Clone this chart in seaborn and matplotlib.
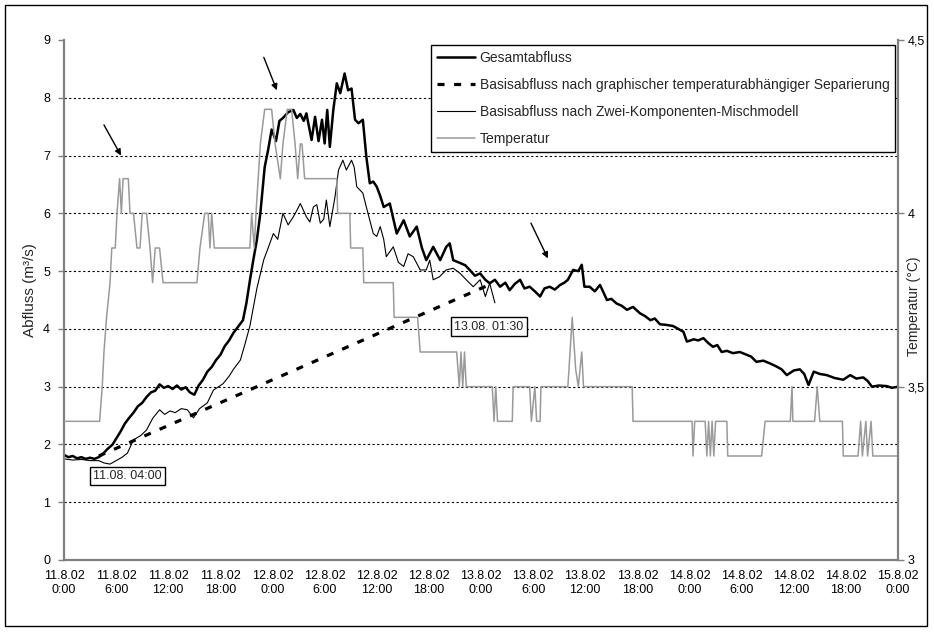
import matplotlib
matplotlib.use("Agg")
import matplotlib.pyplot as plt
import pandas as pd
import seaborn as sns
from matplotlib.lines import Line2D
from matplotlib.patches import Rectangle

sns.set_style("white")
plt.rcParams["font.family"] = ["Liberation Sans", "DejaVu Sans"]

# ---- time axis (hours since 11.8.02 0:00) ----
tick_days = ["11.8.02", "12.8.02", "13.8.02", "14.8.02", "15.8.02"]
tick_clock = ["0:00", "6:00", "12:00", "18:00"]

# ---- Gesamtabfluss (m3/s) ----
gesamt_h = [
    0, 0.5, 1, 1.5, 2, 2.5, 3, 3.5, 4.0, 4.5,
    5.0, 5.6, 6.0, 6.5, 7.0, 7.5, 8.0, 8.5, 9.0, 9.5,
    10.0, 10.5, 11.0, 11.5, 12.0, 12.5, 13.0, 13.5, 14.0, 14.5,
    15.0, 15.5, 16.0, 16.5, 17.0, 17.5, 18.0, 18.5, 19.0, 19.5,
    20.0, 20.6, 21.0, 21.4, 21.8, 22.2, 22.6, 23.1, 23.5, 23.9,
    24.4, 24.8, 25.2, 25.8, 26.4, 26.8, 27.2, 27.6, 27.9, 28.5,
    28.9, 29.3, 29.7, 30.0, 30.3, 30.6, 31.0, 31.4, 31.8, 32.3,
    32.7, 33.1, 33.5, 33.9, 34.4, 34.8, 35.2, 35.6, 36.0, 36.4,
    36.8, 37.5, 38.3, 39.1, 39.8, 40.6, 41.2, 41.7, 42.5, 43.3,
    44.0, 44.4, 44.8, 45.6, 46.2, 46.7, 47.3, 47.9, 48.5, 49.0,
    49.6, 50.2, 50.8, 51.3, 51.9, 52.5, 53.0, 53.6, 54.2, 54.8,
    55.3, 55.9, 56.5, 57.1, 57.6, 58.0, 58.6, 59.2, 59.6, 59.9,
    60.5, 61.1, 61.7, 62.5, 63.0, 63.6, 64.2, 64.8, 65.5, 66.3,
    66.9, 67.5, 68.0, 68.6, 69.3, 70.1, 71.3, 71.7, 72.5, 73.0,
    73.6, 74.2, 74.7, 75.2, 75.7, 76.3, 77.0, 77.8, 78.6, 79.1,
    79.7, 80.5, 81.3, 82.0, 82.6, 83.2, 84.0, 84.7, 85.2, 85.7,
    86.3, 87.0, 87.8, 88.7, 89.7, 90.5, 91.2, 92.0, 92.5, 93.0,
    93.8, 94.7, 95.3, 96.0,
]
gesamt_q = [
    1.82, 1.78, 1.80, 1.76, 1.78, 1.75, 1.77, 1.75, 1.78, 1.84,
    1.92, 2.00, 2.10, 2.22, 2.36, 2.46, 2.55, 2.66, 2.72, 2.82,
    2.90, 2.93, 3.04, 2.98, 3.01, 2.96, 3.02, 2.95, 2.99, 2.90,
    2.86, 3.02, 3.12, 3.26, 3.34, 3.46, 3.55, 3.70, 3.80, 3.93,
    4.03, 4.15, 4.45, 4.84, 5.20, 5.54, 6.00, 6.80, 7.10, 7.45,
    7.25, 7.60, 7.65, 7.75, 7.79, 7.65, 7.72, 7.60, 7.73, 7.27,
    7.67, 7.25, 7.62, 7.21, 7.79, 7.15, 7.79, 8.25, 8.08, 8.42,
    8.13, 8.16, 7.62, 7.56, 7.62, 6.98, 6.52, 6.55, 6.46, 6.30,
    6.11, 6.17, 5.65, 5.88, 5.60, 5.77, 5.40, 5.19, 5.42, 5.19,
    5.42, 5.48, 5.19, 5.14, 5.10, 5.02, 4.92, 4.96, 4.85, 4.79,
    4.85, 4.73, 4.80, 4.67, 4.78, 4.85, 4.70, 4.73, 4.65, 4.56,
    4.70, 4.73, 4.68, 4.76, 4.80, 4.85, 5.02, 5.00, 5.11, 4.73,
    4.73, 4.65, 4.76, 4.50, 4.52, 4.44, 4.40, 4.33, 4.38, 4.27,
    4.22, 4.15, 4.18, 4.08, 4.07, 4.05, 3.95, 3.78, 3.82, 3.80,
    3.84, 3.75, 3.69, 3.72, 3.60, 3.62, 3.58, 3.60, 3.55, 3.52,
    3.43, 3.45, 3.40, 3.35, 3.30, 3.20, 3.28, 3.30, 3.22, 3.03,
    3.26, 3.22, 3.20, 3.15, 3.12, 3.20, 3.14, 3.16, 3.10, 3.00,
    3.02, 3.01, 2.98, 3.00,
]

# ---- Basisabfluss, graphische temperaturabhaengige Separierung ----
separierung_h = [4.0, 49.5]
separierung_q = [1.80, 4.80]

# ---- Basisabfluss, Zwei-Komponenten-Mischmodell ----
misch_h = [
    0, 1, 2, 3, 4, 4.6, 5.3, 6.0, 6.7, 7.3,
    8.0, 8.8, 9.5, 10.2, 11.0, 11.6, 12.2, 12.8, 13.5, 14.2,
    14.9, 15.6, 16.5, 17.2, 18.3, 19.0, 19.5, 20.3, 20.8, 21.4,
    22.2, 23.0, 23.5, 24.1, 24.6, 25.2, 25.8, 26.4, 26.8, 27.2,
    27.9, 28.3, 28.7, 29.1, 29.5, 29.9, 30.2, 30.6, 31.2, 31.6,
    32.1, 32.5, 33.1, 33.4, 33.7, 34.4, 34.8, 35.6, 36.0, 36.4,
    36.8, 37.1, 37.9, 38.5, 39.1, 39.6, 40.2, 41.0, 41.7, 42.1,
    42.5, 43.2, 44.0, 44.8, 45.6, 46.3, 47.1, 47.9, 48.5, 49.0,
    49.6,
]
misch_q = [
    1.75, 1.73, 1.74, 1.72, 1.72, 1.68, 1.66, 1.72, 1.78, 1.85,
    2.08, 2.15, 2.25, 2.45, 2.60, 2.52, 2.58, 2.55, 2.62, 2.60,
    2.46, 2.62, 2.72, 2.94, 3.05, 3.18, 3.30, 3.46, 3.72, 4.05,
    4.70, 5.20, 5.40, 5.65, 5.55, 6.00, 5.80, 5.94, 6.05, 6.17,
    5.94, 5.85, 6.11, 6.15, 5.83, 5.90, 6.23, 5.77, 6.29, 6.75,
    6.92, 6.75, 6.92, 6.80, 6.46, 6.35, 6.11, 5.65, 5.60, 5.77,
    5.55, 5.25, 5.42, 5.15, 5.08, 5.30, 5.25, 5.02, 5.02, 5.19,
    4.85, 4.90, 5.02, 5.05, 4.96, 4.85, 4.73, 4.85, 4.56, 4.79,
    4.45,
]

# ---- Temperatur (deg C) ----
temp_h = [
    0, 4.1, 4.4, 4.6, 4.9, 5.3, 5.5, 5.9, 6.1, 6.4,
    6.6, 6.8, 7.4, 7.6, 8.0, 8.4, 8.75, 9.0, 9.5, 9.9,
    10.2, 10.5, 11.0, 11.4, 15.3, 15.65, 16.2, 16.6, 16.8, 17.0,
    17.3, 21.4, 21.6, 21.9, 22.1, 22.6, 23.1, 23.9, 24.3, 24.9,
    25.2, 25.7, 26.2, 26.6, 26.9, 27.2, 27.4, 27.7, 31.4, 31.5,
    32.9, 33.0, 34.4, 34.5, 37.9, 38.0, 40.7, 41.0, 45.2, 45.5,
    45.7, 45.9, 46.1, 46.3, 49.3, 49.5, 49.7, 49.9, 51.6, 51.7,
    53.6, 53.8, 54.2, 54.4, 54.8, 54.9, 58.0, 58.5, 58.9, 59.2,
    59.6, 59.8, 65.4, 65.5, 72.3, 72.4, 72.6, 73.8, 74.0, 74.2,
    74.4, 74.6, 74.8, 75.0, 76.3, 76.4, 80.3, 80.7, 83.6, 83.8,
    83.9, 86.4, 86.7, 87.0, 89.6, 89.7, 91.4, 91.7, 91.9, 92.3,
    92.5, 92.9, 93.1, 96.0,
]
temp_c = [
    3.4, 3.4, 3.5, 3.6, 3.7, 3.8, 3.9, 3.9, 4.0, 4.1,
    4.0, 4.1, 4.1, 4.0, 4.0, 3.9, 3.9, 4.0, 4.0, 3.9,
    3.8, 3.9, 3.9, 3.8, 3.8, 3.9, 4.0, 4.0, 3.9, 4.0,
    3.9, 3.9, 4.0, 3.9, 4.0, 4.2, 4.3, 4.3, 4.2, 4.1,
    4.2, 4.3, 4.3, 4.2, 4.1, 4.2, 4.2, 4.1, 4.1, 4.0,
    4.0, 3.9, 3.9, 3.8, 3.8, 3.7, 3.7, 3.6, 3.6, 3.5,
    3.6, 3.5, 3.6, 3.5, 3.5, 3.4, 3.5, 3.4, 3.4, 3.5,
    3.5, 3.4, 3.5, 3.4, 3.4, 3.5, 3.5, 3.7, 3.55, 3.5,
    3.6, 3.5, 3.5, 3.4, 3.4, 3.3, 3.4, 3.4, 3.3, 3.4,
    3.3, 3.4, 3.3, 3.4, 3.4, 3.3, 3.3, 3.4, 3.4, 3.5,
    3.4, 3.4, 3.5, 3.4, 3.4, 3.3, 3.3, 3.4, 3.3, 3.4,
    3.3, 3.4, 3.3, 3.3,
]

labels = [
    "Gesamtabfluss",
    "Basisabfluss nach graphischer temperaturabhängiger Separierung",
    "Basisabfluss nach Zwei-Komponenten-Mischmodell",
    "Temperatur",
]

gesamt = pd.DataFrame({"h": gesamt_h, "q": gesamt_q})
separierung = pd.DataFrame({"h": separierung_h, "q": separierung_q})
misch = pd.DataFrame({"h": misch_h, "q": misch_q})
temp = pd.DataFrame({"h": temp_h, "c": temp_c})

W, H = 934, 632
fig = plt.figure(figsize=(W / 100, H / 100), dpi=100)
ax = fig.add_axes([64 / W, 1 - 560 / H, (898 - 64) / W, 520 / H])
ax2 = ax.twinx()

GRAY = "#9a9a9a"
SPINE = "#808080"
dash_style = (0, (2.2, 3.0))

sns.lineplot(data=temp, x="h", y="c", ax=ax2, color=GRAY, lw=1.1,
             estimator=None, sort=False, legend=False)
sns.lineplot(data=misch, x="h", y="q", ax=ax, color="black", lw=0.8,
             estimator=None, sort=False, legend=False)
sns.lineplot(data=separierung, x="h", y="q", ax=ax, color="black", lw=2.3,
             linestyle=dash_style, estimator=None, sort=False, legend=False)
sns.lineplot(data=gesamt, x="h", y="q", ax=ax, color="black", lw=1.8,
             estimator=None, sort=False, legend=False)

# axes ranges and ticks
ax.set_xlim(0, 96)
ax.set_ylim(0, 9)
ax.set_yticks(range(0, 10))
ax2.set_ylim(3, 4.5)
ax2.set_yticks([3, 3.5, 4, 4.5])
ax2.set_yticklabels(["3", "3,5", "4", "4,5"])

xticks = list(range(0, 97, 6))
xlabels = []
for i in range(len(xticks)):
    day = tick_days[i // 4]
    clock = tick_clock[i % 4]
    xlabels.append(f"{day}\n{clock}")
ax.set_xticks(xticks)
ax.set_xticklabels(xlabels, linespacing=1.25)

ax.set_xlabel("")
ax.set_ylabel("")
ax2.set_ylabel("")

# axis titles placed close to the axes
fig.text(30 / W, 1 - 290 / H, "Abfluss (m³/s)", rotation=90,
         ha="center", va="center", fontsize=11)
fig.text(914 / W, 1 - 306 / H, "Temperatur (°C)", rotation=90,
         ha="center", va="center", fontsize=10)

# dotted horizontal grid at 1 ... 8
for lvl in range(1, 9):
    ax.axhline(lvl, color="black", lw=0.8, linestyle=(0, (2, 2.2)), zorder=0.5)

for a in (ax, ax2):
    a.spines["top"].set_visible(False)
    for s in ("left", "right", "bottom"):
        a.spines[s].set_color(SPINE)
        a.spines[s].set_linewidth(1.6)
    a.tick_params(axis="both", direction="out", length=4, width=1,
                  color=SPINE, labelsize=9, labelcolor="black", pad=3)
ax.spines["right"].set_visible(False)
ax2.spines["left"].set_visible(False)
ax2.spines["bottom"].set_visible(False)
ax.tick_params(axis="y", pad=6)
ax2.tick_params(axis="y", pad=3)

# legend
handles = [
    Line2D([], [], color="black", lw=1.8),
    Line2D([], [], color="black", lw=2.3, linestyle=dash_style),
    Line2D([], [], color="black", lw=0.8),
    Line2D([], [], color=GRAY, lw=1.1),
]
leg = ax2.legend(handles, labels, loc="upper right",
                 bbox_to_anchor=((895 - 64) / 834, (560 - 45) / 520),
                 frameon=True, fancybox=False, framealpha=1,
                 edgecolor="black", borderaxespad=0, fontsize=10,
                 handlelength=2.75, handletextpad=0.35,
                 labelspacing=0.95, borderpad=0.4)
leg.get_frame().set_linewidth(1.0)

# event arrows
arrow_props = dict(arrowstyle="-|>", color="black", lw=1.0,
                   mutation_scale=9, shrinkA=0, shrinkB=0)
for tail, head in [((4.6, 7.53), (6.56, 7.0)),
                   ((23.0, 8.70), (24.5, 8.13)),
                   ((53.75, 5.83), (55.7, 5.22))]:
    ax.annotate("", xy=head, xytext=tail, arrowprops=arrow_props,
                annotation_clip=False, zorder=6)

# separation start / end labels
box = dict(boxstyle="square,pad=0.25", fc="white", ec="black", lw=1.0)
ax.text(7.3, 1.45, "11.08. 04:00", ha="center", va="center",
        fontsize=9, bbox=box, zorder=7)
ax.text(48.9, 4.04, "13.08. 01:30", ha="center", va="center",
        fontsize=9, bbox=box, zorder=7)

# outer frame around the figure
fig.patches.append(Rectangle((5 / W, 6 / H), (927 - 5) / W, (626 - 5) / H,
                             transform=fig.transFigure, fill=False,
                             ec="black", lw=1.0))

fig.savefig("out.png", dpi=100, facecolor="white")
